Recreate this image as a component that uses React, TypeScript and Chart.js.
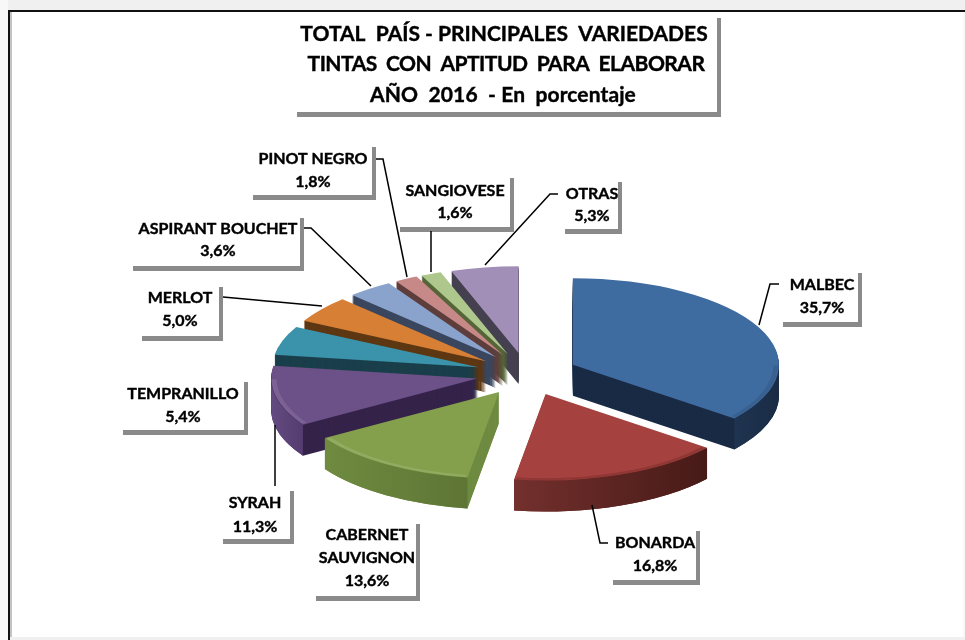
import React, { useEffect, useRef } from "react";
import { Chart, registerables } from "chart.js";

Chart.register(...registerables);

const categories = ["MALBEC", "BONARDA", "CABERNET SAUVIGNON", "SYRAH", "TEMPRANILLO", "MERLOT", "ASPIRANT BOUCHET", "PINOT NEGRO", "SANGIOVESE", "OTRAS"];
const values = [35.7, 16.8, 13.6, 11.3, 5.4, 5.0, 3.6, 1.8, 1.6, 5.3];
const valueLabels = ["35,7%", "16,8%", "13,6%", "11,3%", "5,4%", "5,0%", "3,6%", "1,8%", "1,6%", "5,3%"];
const topColors = ["#3f6ca0", "#a5423f", "#84a04c", "#6c5088", "#3b93ab", "#d67f35", "#8aa3cc", "#c78987", "#aec78c", "#a18fb8"];
const rimLight = ["#1f3450", "#73302d", "#6f8b40", "#634a80", "#1e4a58", "#6b4019", "#45546e", "#6e4a48", "#5f7040", "#4e4658"];
const rimDark = ["#1a2b45", "#471a17", "#5e7535", "#543c70", "#1a3f4b", "#5e3612", "#3a475f", "#5e3e3c", "#556538", "#45404f"];
const cutColors = ["#1a2b45", "#5e2220", "#6f8b40", "#35234a", "#1a3f4b", "#5e3612", "#3a475f", "#5e3e3c", "#556538", "#45404f"];
const bevelColors = ["rgba(20,40,70,0.15)", "rgba(60,15,15,0.2)", "rgba(255,255,255,0.12)", "rgba(255,255,255,0.1)", "rgba(0,0,0,0)", "rgba(0,0,0,0)", "rgba(0,0,0,0)", "rgba(0,0,0,0)", "rgba(0,0,0,0)", "rgba(0,0,0,0)"];

const titleLines = ["TOTAL  PAÍS - PRINCIPALES  VARIEDADES", "TINTAS  CON  APTITUD  PARA  ELABORAR", "AÑO  2016  - En  porcentaje"];
const titleCenters = [504, 506, 503];
const titleRows = [34, 64, 95];
const titleTracking = ["0px", "-0.5px", "0.1px"];

type Box = { l: number; t: number; r: number; b: number; cx: number; ys: number[]; lines: string[]; leader: number[][] };
const labelBoxes: Box[] = [
  { l: 783, t: 273, r: 858, b: 322, cx: 822, ys: [285, 308], lines: ["MALBEC"], leader: [[759, 325], [770, 284], [779, 284]] },
  { l: 613, t: 531, r: 696, b: 580, cx: 655, ys: [543, 566], lines: ["BONARDA"], leader: [[592, 505], [600, 543], [608, 543]] },
  { l: 316, t: 524, r: 416, b: 596, cx: 367, ys: [535, 558, 581], lines: ["CABERNET", "SAUVIGNON"], leader: [] },
  { l: 223, t: 491, r: 290, b: 539, cx: 255, ys: [503, 527], lines: ["SYRAH"], leader: [[275, 425], [275, 486]] },
  { l: 123, t: 382, r: 244, b: 430, cx: 183, ys: [394, 417], lines: ["TEMPRANILLO"], leader: [] },
  { l: 142, t: 287, r: 219, b: 336, cx: 180, ys: [298, 321], lines: ["MERLOT"], leader: [[223, 297], [322, 306]] },
  { l: 133, t: 218, r: 300, b: 266, cx: 218, ys: [229, 251], lines: ["ASPIRANT BOUCHET"], leader: [[304, 228], [311, 228], [371, 286]] },
  { l: 253, t: 147, r: 372, b: 195, cx: 313, ys: [159, 182], lines: ["PINOT NEGRO"], leader: [[376, 159], [383, 159], [407, 277]] },
  { l: 400, t: 178, r: 510, b: 227, cx: 455, ys: [191, 213], lines: ["SANGIOVESE"], leader: [[431, 231], [431, 272]] },
  { l: 565, t: 182, r: 618, b: 229, cx: 592, ys: [194, 216], lines: ["OTRAS"], leader: [[485, 265], [550, 194], [558, 194]] },
];

const K = 0.42;
const EXPLODE = 51;
const DEPTH = 31;
const LABEL_FONT = "bold 16px Lato, 'Open Sans', sans-serif";
const TITLE_FONT = "bold 21px Lato, 'Open Sans', sans-serif";

const pie3d = {
  id: "pie3d",
  beforeDatasetsDraw(chart: any) {
    const ctx: CanvasRenderingContext2D = chart.ctx;
    const arcs = chart.getDatasetMeta(0).data as any[];
    const order = arcs.map((a, i) => {
      const mid = (a.startAngle + a.endAngle) / 2;
      return { a, i, mid, ky: Math.sin(mid) };
    });
    order.sort((p, q) => p.ky - q.ky);
    const place = (a: any, mid: number, d: number) => {
      ctx.translate(a.x, a.y + d);
      ctx.scale(1, K);
      ctx.translate(-a.x, -a.y);
      ctx.translate(Math.cos(mid) * EXPLODE, Math.sin(mid) * EXPLODE);
    };
    for (const { a, i, mid } of order) {
      ctx.save();
      ctx.fillStyle = cutColors[i];
      for (let d = DEPTH; d >= 1; d--) {
        ctx.save();
        place(a, mid, d);
        ctx.beginPath();
        ctx.moveTo(a.x, a.y);
        ctx.arc(a.x, a.y, a.outerRadius, a.startAngle, a.endAngle);
        ctx.closePath();
        ctx.restore();
        ctx.fill();
      }
      const s = Math.max(a.startAngle, 0);
      const e = Math.min(a.endAngle, Math.PI);
      if (e > s) {
        const px = (an: number) => a.x + Math.cos(mid) * EXPLODE + Math.cos(an) * a.outerRadius;
        const g = ctx.createLinearGradient(px(e), 0, px(s), 0);
        g.addColorStop(0, rimLight[i]);
        g.addColorStop(1, rimDark[i]);
        ctx.fillStyle = g;
        ctx.beginPath();
        ctx.save();
        place(a, mid, 0);
        ctx.arc(a.x, a.y, a.outerRadius, s, e);
        ctx.restore();
        ctx.save();
        place(a, mid, DEPTH);
        ctx.arc(a.x, a.y, a.outerRadius, e, s, true);
        ctx.restore();
        ctx.closePath();
        ctx.fill();
      }
      ctx.save();
      place(a, mid, 0);
      a.draw(ctx);
      if (e > s) {
        ctx.strokeStyle = bevelColors[i];
        ctx.lineWidth = 5;
        ctx.beginPath();
        ctx.arc(a.x, a.y, a.outerRadius - 3, s + 0.01, e - 0.01);
        ctx.stroke();
      }
      ctx.restore();
      ctx.restore();
    }
    return false;
  },
  afterDraw(chart: any) {
    const ctx: CanvasRenderingContext2D = chart.ctx;
    const { width, height } = chart;
    const drawBox = (l: number, t: number, r: number, b: number, sh: number) => {
      ctx.save();
      ctx.filter = "blur(0.6px)";
      ctx.fillStyle = "#8a8a8a";
      ctx.fillRect(l, b, r - l + sh, sh + 1);
      ctx.fillRect(r, t, sh, b - t);
      ctx.restore();
    };
    const boldText = (s: string, x: number, y: number) => {
      ctx.fillText(s, x, y);
      ctx.strokeText(s, x, y);
    };
    ctx.save();
    ctx.textAlign = "center";
    ctx.textBaseline = "middle";
    ctx.strokeStyle = "#000";
    ctx.fillStyle = "#000";
    ctx.lineWidth = 0.4;
    drawBox(297, 18, 717, 112, 4);
    ctx.font = TITLE_FONT;
    titleLines.forEach((line, i) => {
      (ctx as any).letterSpacing = titleTracking[i];
      boldText(line, titleCenters[i], titleRows[i]);
    });
    (ctx as any).letterSpacing = "0px";
    labelBoxes.forEach((bx, i) => {
      drawBox(bx.l, bx.t, bx.r, bx.b, 4);
      ctx.font = LABEL_FONT;
      ctx.fillStyle = "#000";
      ctx.strokeStyle = "#000";
      ctx.lineWidth = 0.4;
      [...bx.lines, valueLabels[i]].forEach((line, j) => boldText(line, bx.cx, bx.ys[j]));
      if (bx.leader.length) {
        ctx.lineWidth = 1.5;
        ctx.beginPath();
        bx.leader.forEach(([x, y], j) => (j ? ctx.lineTo(x, y) : ctx.moveTo(x, y)));
        ctx.stroke();
      }
    });
    // frame
    ctx.fillStyle = "#f0f0f0";
    ctx.fillRect(0, 0, width, 10);
    ctx.fillRect(0, 637, width, 3);
    ctx.fillStyle = "#f8f8f8";
    ctx.fillRect(0, 0, 8, height);
    ctx.fillRect(963, 12, 2, 625);
    ctx.fillStyle = "#111";
    ctx.fillRect(8, 10, 957, 2);
    ctx.fillRect(8, 10, 2, 630);
    ctx.fillStyle = "#c4c4c4";
    ctx.fillRect(10, 12, 2, 625);
    ctx.restore();
  },
};

export default function App() {
  const ref = useRef<HTMLCanvasElement>(null);
  useEffect(() => {
    const chart = new Chart(ref.current as HTMLCanvasElement, {
      type: "pie",
      data: {
        labels: categories,
        datasets: [{ data: values, backgroundColor: topColors, borderWidth: 0, offset: 0 }],
      },
      options: {
        responsive: false,
        animation: false,
        radius: 206,
        layout: { padding: { left: 89, top: 108, right: 0, bottom: 0 } },
        plugins: { legend: { display: false }, tooltip: { enabled: false } },
      },
      plugins: [pie3d],
    } as any);
    return () => chart.destroy();
  }, []);
  return (
    <div style={{ position: "fixed", left: 0, top: 0, width: 965, height: 640, background: "#fff" }}>
      <canvas ref={ref} width={965} height={640} style={{ display: "block" }} />
    </div>
  );
}
